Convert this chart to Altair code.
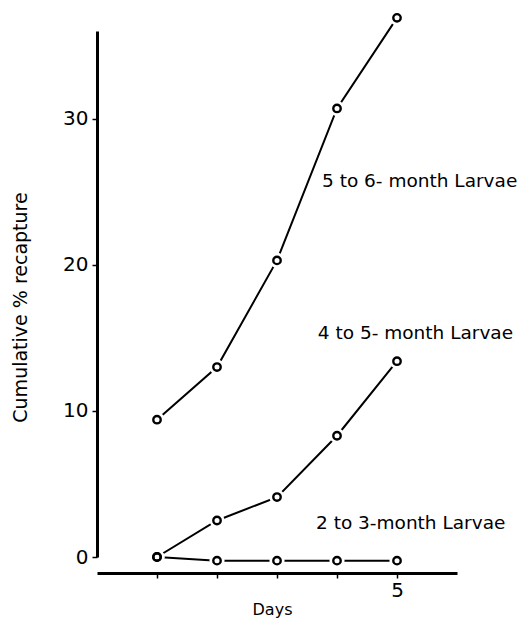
import altair as alt
import pandas as pd

days = [1, 2, 3, 4, 5]
larvae_5_6 = [9.4, 13.0, 20.3, 30.7, 36.9]
larvae_4_5 = [0.0, 2.5, 4.1, 8.3, 13.4]
larvae_2_3 = [0.0, -0.25, -0.25, -0.25, -0.25]
series_names = ["5 to 6- month Larvae", "4 to 5- month Larvae", "2 to 3-month Larvae"]

rows = []
for name, vals in zip(series_names, [larvae_5_6, larvae_4_5, larvae_2_3]):
    for d, v in zip(days, vals):
        rows.append({"series": name, "day": d, "pct": v})
df = pd.DataFrame(rows)

label_day = [3.75, 3.68, 3.65]
label_pct = [25.7, 15.3, 2.3]
labels = pd.DataFrame({"text": series_names, "day": label_day, "pct": label_pct})

FONT = "DejaVu Sans"

x = alt.X("day:Q",
          scale=alt.Scale(domain=[0, 6], nice=False, zero=False),
          axis=alt.Axis(values=days, labelExpr="datum.value == 5 ? '5' : ''",
                        title="Days", grid=False, offset=16,
                        domainWidth=3, domainColor="black", tickColor="black",
                        tickSize=5, tickWidth=1.5, labelFontSize=20, labelFont=FONT,
                        labelColor="black", titleFont=FONT, titleFontSize=16,
                        titleFontWeight="normal", titleColor="black",
                        titleX=175, titleY=36, titleBaseline="middle", labelPadding=2))
y = alt.Y("pct:Q",
          scale=alt.Scale(domain=[0, 36], nice=False),
          axis=alt.Axis(values=[0, 10, 20, 30], title="Cumulative % recapture",
                        grid=False, domainWidth=3, domainColor="black",
                        tickColor="black", tickSize=5, tickWidth=1.5,
                        labelFontSize=20, labelFont=FONT, labelColor="black",
                        labelPadding=4, titleFont=FONT, titleFontSize=19,
                        titleFontWeight="normal", titleColor="black",
                        titleX=-77, titleY=276, titleBaseline="middle",
                        titleAngle=-90))

base = alt.Chart(df).encode(x=x, y=y)

line_layers = [
    base.transform_filter(alt.datum.series == name)
        .mark_line(color="black", strokeWidth=2, interpolate="linear", clip=False)
    for name in series_names
]
halo = base.mark_point(shape="circle", filled=True, fill="#ffffff", strokeWidth=0,
                       size=230, opacity=1, fillOpacity=1, clip=False)
pts = base.mark_point(shape="circle", filled=False, color="black", size=55,
                      strokeWidth=2.4, opacity=1, clip=False)

text = alt.Chart(labels).mark_text(align="left", baseline="middle", font=FONT,
                                   fontSize=18.5, color="black").encode(
    x=alt.X("day:Q"), y=alt.Y("pct:Q"), text="text:N")

chart = alt.layer(*line_layers, halo, pts, text).properties(
    width=360, height=526,
    padding={"left": 89, "top": 23, "right": 66, "bottom": 63},
    autosize=alt.AutoSizeParams(type="none"),
).configure_view(stroke=None)

chart.save("out.html", embed_options={"renderer": "svg", "actions": False})
